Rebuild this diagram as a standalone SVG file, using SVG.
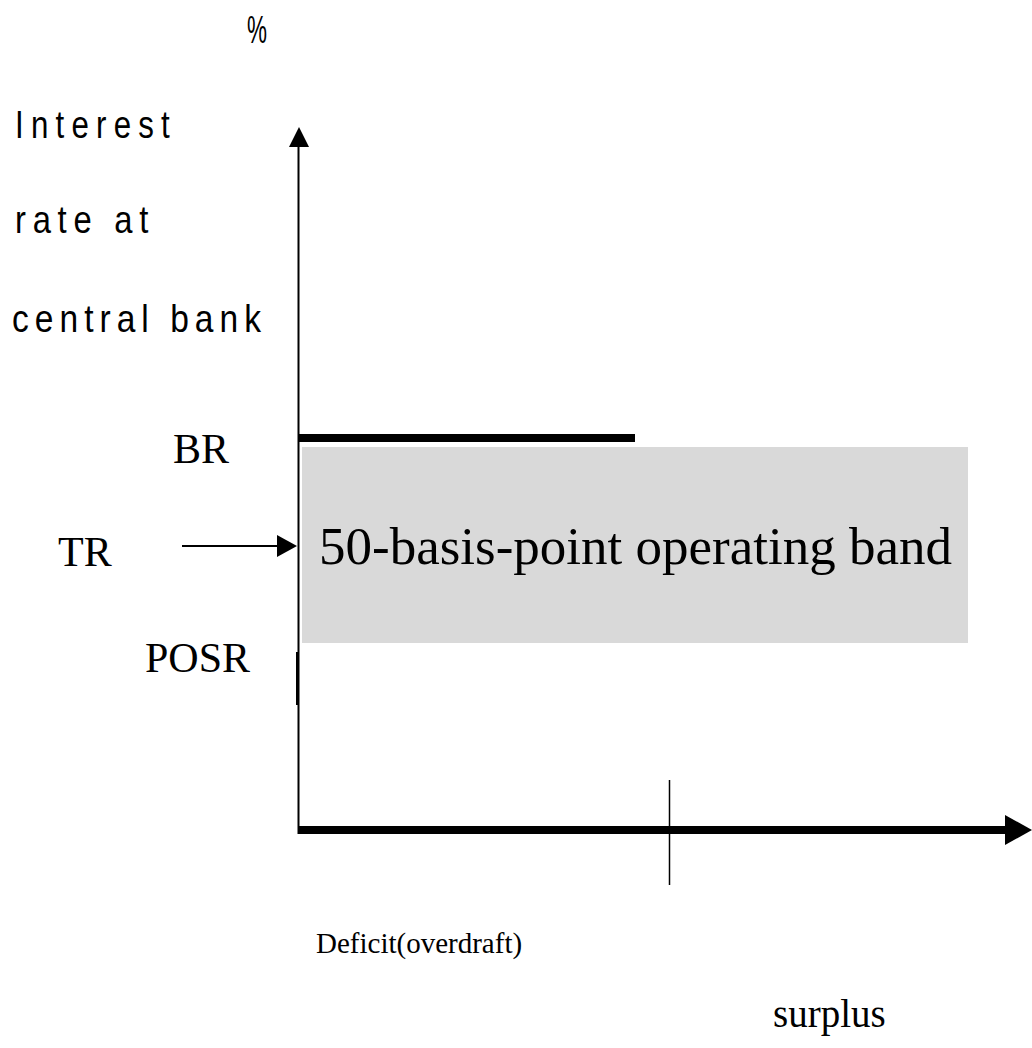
<svg xmlns="http://www.w3.org/2000/svg" width="1032" height="1048" viewBox="0 0 1032 1048">
  <style>
    .axis-label { font-family: "Liberation Sans", Arial, sans-serif; font-size: 39px; fill: #000; }
    .rate { font-family: "Liberation Serif", "Times New Roman", serif; font-size: 42px; fill: #000; }
    .band-text { font-family: "Liberation Serif", "Times New Roman", serif; font-size: 53px; fill: #000; }
    .small { font-family: "Liberation Serif", "Times New Roman", serif; font-size: 29px; fill: #000; }
    .mid { font-family: "Liberation Serif", "Times New Roman", serif; font-size: 39px; fill: #000; }
    .thin { stroke: #000; stroke-width: 2; fill: none; }
    .thick { stroke: #000; stroke-width: 8; fill: none; }
  </style>
  <rect width="1032" height="1048" fill="#fff"/>

  <!-- Y axis title (condensed, widely tracked) -->
  <g id="y-title">
    <text class="axis-label" x="247" y="43" textLength="20" lengthAdjust="spacingAndGlyphs">%</text>
    <text class="axis-label" x="15" y="138" textLength="162" lengthAdjust="spacingAndGlyphs" letter-spacing="9">Interest</text>
    <text class="axis-label" x="15" y="233" textLength="140" lengthAdjust="spacingAndGlyphs" letter-spacing="8">rate at</text>
    <text class="axis-label" x="12" y="332" textLength="255" lengthAdjust="spacingAndGlyphs" letter-spacing="7">central bank</text>
  </g>

  <!-- Operating band -->
  <g id="band">
    <rect x="302" y="447" width="666" height="196" fill="#d9d9d9"/>
    <text class="band-text" x="319" y="564">50-basis-point operating band</text>
  </g>

  <!-- Rate labels -->
  <g id="label-br"><text class="rate" x="173" y="463">BR</text></g>
  <g id="label-tr"><text class="rate" x="58" y="566">TR</text></g>
  <g id="label-posr"><text class="rate" x="145" y="672">POSR</text></g>

  <!-- Axis captions -->
  <g id="label-deficit"><text class="small" x="316" y="953">Deficit(overdraft)</text></g>
  <g id="label-surplus"><text class="mid" x="773" y="1027">surplus</text></g>

  <g id="connectors">
    <!-- vertical axis -->
    <line class="thin" x1="298.5" y1="145" x2="298.5" y2="834"/>
    <polygon points="299,127 289,147 309,147" fill="#000"/>
    <!-- BR level -->
    <line class="thick" x1="298" y1="438" x2="635" y2="438"/>
    <!-- POSR marker -->
    <line x1="297.5" y1="652" x2="297.5" y2="705" stroke="#000" stroke-width="3"/>
    <!-- TR pointer -->
    <line class="thin" x1="182" y1="546" x2="280" y2="546"/>
    <polygon points="297,546 277,535 277,557" fill="#000"/>
    <!-- horizontal axis -->
    <line class="thick" x1="298" y1="830" x2="1008" y2="830"/>
    <polygon points="1032,830 1005,815 1005,845" fill="#000"/>
    <!-- deficit / surplus divider -->
    <line x1="669.5" y1="780" x2="669.5" y2="885" stroke="#000" stroke-width="1.5"/>
  </g>
</svg>
